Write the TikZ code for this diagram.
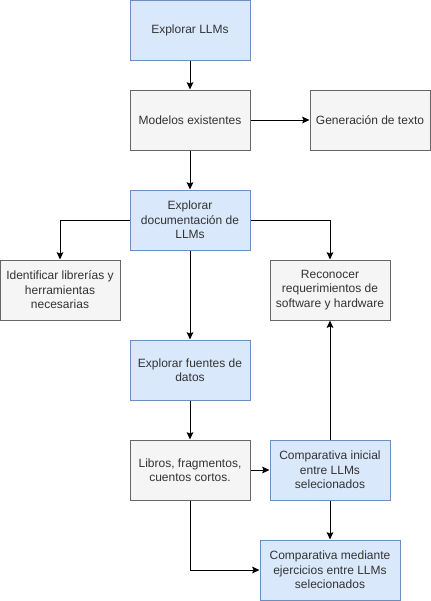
\documentclass[tikz,border=0pt]{standalone}
\usepackage{fontspec}
\setmainfont{Liberation Sans}
\usetikzlibrary{arrows.meta}
\definecolor{bluefill}{HTML}{DAE8FC}
\definecolor{blueline}{HTML}{6C8EBF}
\definecolor{grayfill}{HTML}{F5F5F5}
\definecolor{grayline}{HTML}{666666}
\definecolor{txt}{HTML}{333333}
\tikzset{
  box/.style={draw, line width=0.75pt, minimum width=90pt, minimum height=45pt, inner sep=2pt,
    align=center, font=\fontsize{9pt}{10.8pt}\selectfont, text=txt},
  bluebox/.style={box, fill=bluefill, draw=blueline},
  graybox/.style={box, fill=grayfill, draw=grayline},
  conn/.style={line width=0.75pt, -{Stealth[length=5.5pt,width=5pt,inset=1pt]}},
}
\begin{document}
\begin{tikzpicture}[x=0.75pt,y=-0.75pt]
\useasboundingbox (0,0) rectangle (431,601);
\node[bluebox] (a) at (190,30) {Explorar LLMs};
\node[graybox] (b) at (190,120) {Modelos existentes};
\node[graybox] (c) at (370,120) {Generación de texto};
\node[bluebox] (d) at (190,220) {Explorar\\documentación de\\LLMs};
\node[graybox] (e) at (60,290) {Identificar librerías y\\herramientas\\necesarias};
\node[graybox] (f) at (330,290) {Reconocer\\requerimientos de\\software y hardware};
\node[bluebox] (g) at (190,370) {Explorar fuentes de\\datos};
\node[graybox] (h) at (190,470) {Libros, fragmentos,\\cuentos cortos.};
\node[bluebox] (i) at (330,470) {Comparativa inicial\\entre LLMs\\selecionados};
\node[bluebox, minimum width=105pt] (j) at (330,570) {Comparativa mediante\\ejercicios entre LLMs\\selecionados};
\draw[conn] (a) -- (b);
\draw[conn] (b) -- (c);
\draw[conn] (b) -- (d);
\draw[conn] (d.west) -| (e.north);
\draw[conn] (d.east) -| (f.north);
\draw[conn] (d) -- (g);
\draw[conn] (g) -- (h);
\draw[conn] (h) -- (i);
\draw[conn] (i) -- (f);
\draw[conn] (i) -- (j);
\draw[conn] (h.south) |- (j.west);
\end{tikzpicture}
\end{document}
